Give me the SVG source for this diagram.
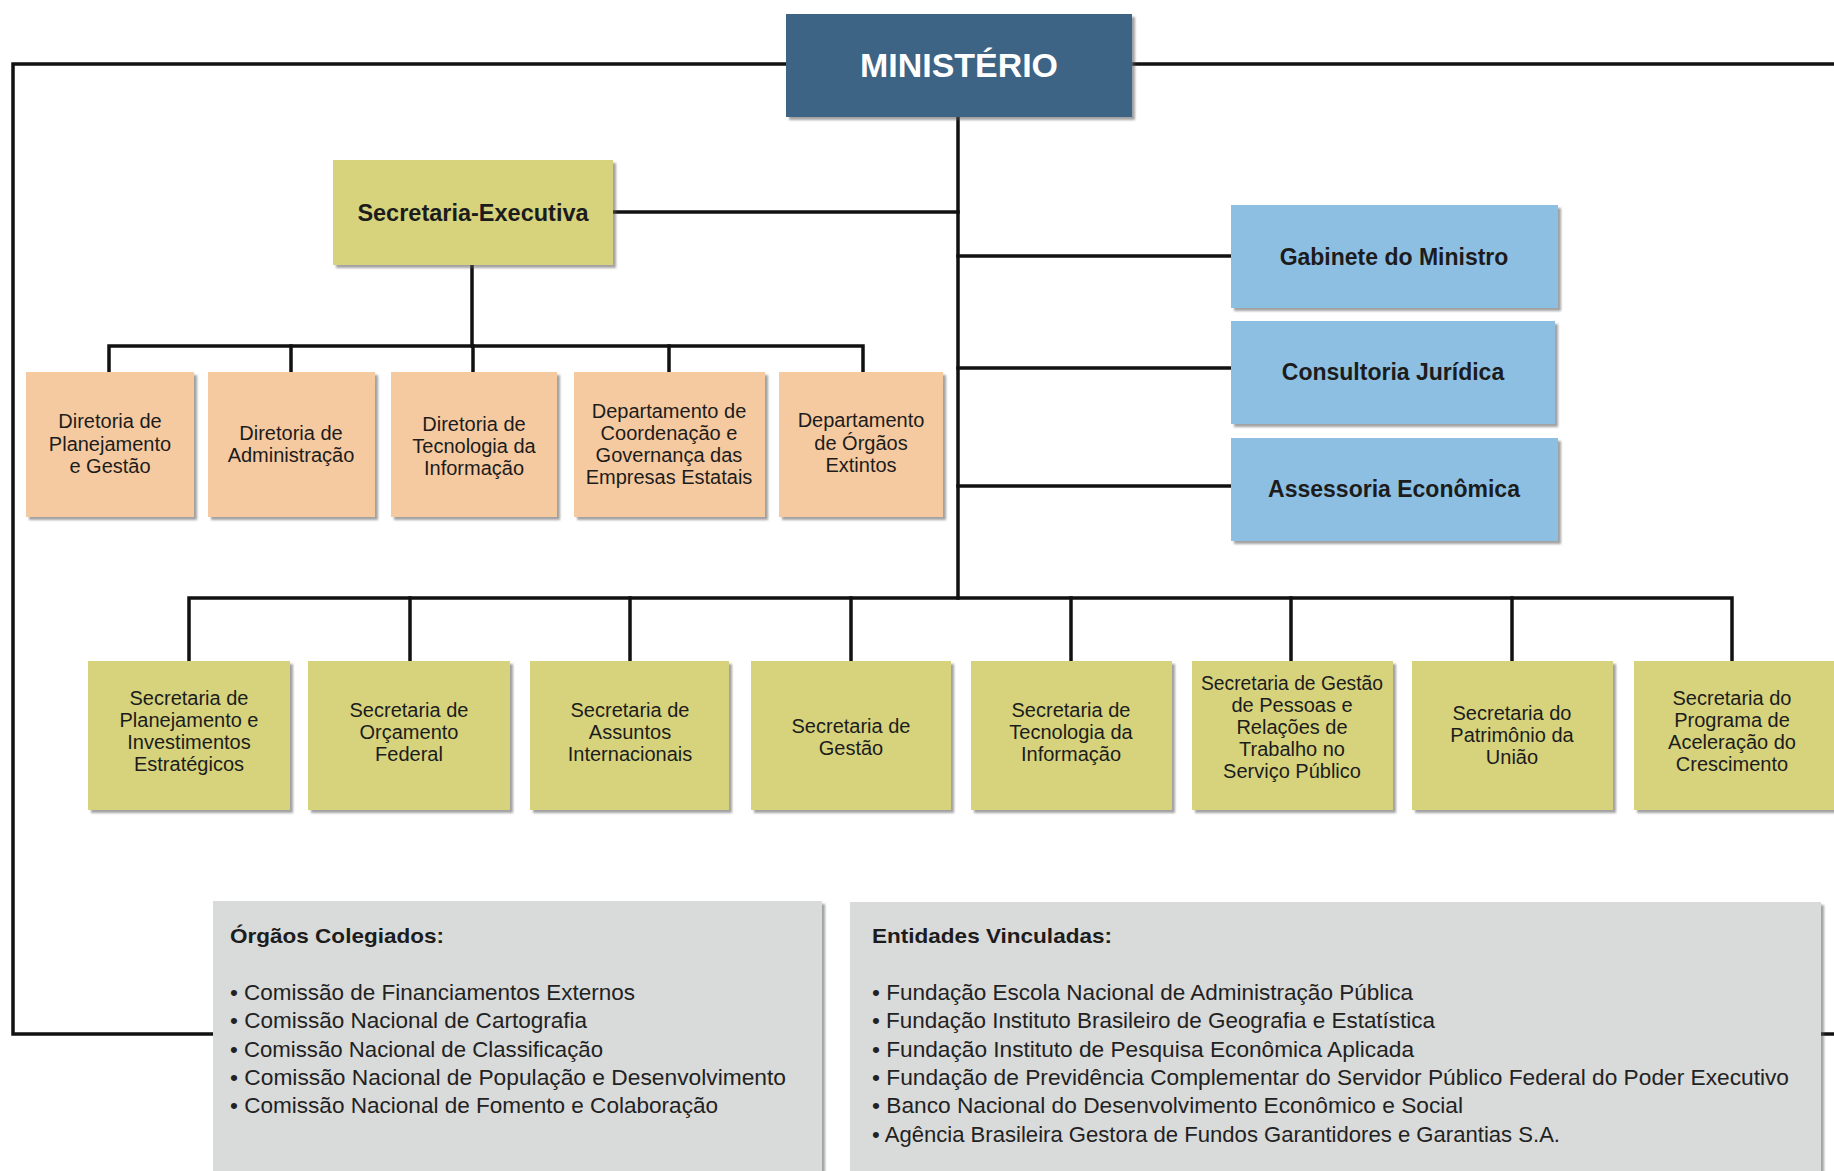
<svg xmlns="http://www.w3.org/2000/svg" width="1834" height="1171" viewBox="0 0 1834 1171">
<style>
  text { font-family: "Liberation Sans", Arial, sans-serif; fill: #1c1c1c; }
  .c { text-anchor: middle; }
  .reg { font-size: 20px; }
  .bold { font-weight: bold; }
  .min { fill: #3e6385; }
  .yel { fill: #d6d37b; }
  .org { fill: #f6caa0; }
  .blu { fill: #8cbfe2; }
  .gry { fill: #d9dada; }
  .box { filter: url(#sh); }
  .ln { fill: none; stroke: #111; stroke-width: 3.5; stroke-linejoin: miter; stroke-linecap: square; }
  .it { font-size: 22px; fill: #222; }
</style>
<defs>
  <filter id="sh" x="-5%" y="-5%" width="112%" height="115%">
    <feDropShadow dx="3" dy="3" stdDeviation="1.2" flood-color="#555" flood-opacity="0.55"/>
  </filter>
</defs>
<rect width="1834" height="1171" fill="#ffffff"/>

<g id="connectors">
  <polyline class="ln" points="786,64 13,64 13,1034 213,1034"/>
  <line class="ln" x1="1134" y1="64" x2="1836" y2="64"/>
  <line class="ln" x1="1821" y1="1034" x2="1836" y2="1034"/>
  <line class="ln" x1="958" y1="117" x2="958" y2="598"/>
  <line class="ln" x1="613" y1="212" x2="958" y2="212"/>
  <line class="ln" x1="958" y1="256" x2="1231" y2="256"/>
  <line class="ln" x1="958" y1="368" x2="1231" y2="368"/>
  <line class="ln" x1="958" y1="486" x2="1231" y2="486"/>
  <line class="ln" x1="472" y1="265" x2="472" y2="346"/>
  <polyline class="ln" points="109,372 109,346 863,346 863,372"/>
  <line class="ln" x1="291" y1="346" x2="291" y2="372"/>
  <line class="ln" x1="473" y1="346" x2="473" y2="372"/>
  <line class="ln" x1="669" y1="346" x2="669" y2="372"/>
  <polyline class="ln" points="189,660 189,598 1732,598 1732,660"/>
  <line class="ln" x1="410" y1="598" x2="410" y2="660"/>
  <line class="ln" x1="630" y1="598" x2="630" y2="660"/>
  <line class="ln" x1="851" y1="598" x2="851" y2="660"/>
  <line class="ln" x1="1071" y1="598" x2="1071" y2="660"/>
  <line class="ln" x1="1291" y1="598" x2="1291" y2="660"/>
  <line class="ln" x1="1512" y1="598" x2="1512" y2="660"/>
</g>

<g id="ministerio">
  <rect class="min box" x="786" y="14" width="346" height="103"/>
  <text class="c bold" x="959" y="77" font-size="34" style="fill:#ffffff" textLength="198" lengthAdjust="spacingAndGlyphs">MINISTÉRIO</text>
</g>

<g id="secretaria-executiva">
  <rect class="yel box" x="333" y="160" width="280" height="105"/>
  <text class="c bold" x="473" y="221" font-size="23.5">Secretaria-Executiva</text>
</g>

<g id="gabinete">
  <rect class="blu box" x="1231" y="205" width="327" height="103"/>
  <text class="c bold" x="1394" y="265" font-size="23">Gabinete do Ministro</text>
</g>
<g id="consultoria">
  <rect class="blu box" x="1231" y="321" width="324" height="103"/>
  <text class="c bold" x="1393" y="380" font-size="23">Consultoria Jurídica</text>
</g>
<g id="assessoria">
  <rect class="blu box" x="1231" y="438" width="327" height="103"/>
  <text class="c bold" x="1394" y="497" font-size="23">Assessoria Econômica</text>
</g>

<g id="dir-planejamento">
  <rect class="org box" x="26" y="372" width="168" height="145"/>
  <text class="c reg" x="110" y="428">Diretoria de</text>
  <text class="c reg" x="110" y="451">Planejamento</text>
  <text class="c reg" x="110" y="473">e Gestão</text>
</g>
<g id="dir-administracao">
  <rect class="org box" x="208" y="372" width="167" height="145"/>
  <text class="c reg" x="291" y="440">Diretoria de</text>
  <text class="c reg" x="291" y="462">Administração</text>
</g>
<g id="dir-tecnologia">
  <rect class="org box" x="391" y="372" width="166" height="145"/>
  <text class="c reg" x="474" y="431">Diretoria de</text>
  <text class="c reg" x="474" y="453">Tecnologia da</text>
  <text class="c reg" x="474" y="475">Informação</text>
</g>
<g id="dep-coordenacao">
  <rect class="org box" x="574" y="372" width="191" height="145"/>
  <text class="c reg" x="669" y="418">Departamento de</text>
  <text class="c reg" x="669" y="440">Coordenação e</text>
  <text class="c reg" x="669" y="462">Governança das</text>
  <text class="c reg" x="669" y="484">Empresas Estatais</text>
</g>
<g id="dep-orgaos-extintos">
  <rect class="org box" x="779" y="372" width="164" height="145"/>
  <text class="c reg" x="861" y="427">Departamento</text>
  <text class="c reg" x="861" y="450">de Órgãos</text>
  <text class="c reg" x="861" y="472">Extintos</text>
</g>

<g id="sec-planejamento">
  <rect class="yel box" x="88" y="661" width="202" height="149"/>
  <text class="c reg" x="189" y="705">Secretaria de</text>
  <text class="c reg" x="189" y="727">Planejamento e</text>
  <text class="c reg" x="189" y="749">Investimentos</text>
  <text class="c reg" x="189" y="771">Estratégicos</text>
</g>
<g id="sec-orcamento">
  <rect class="yel box" x="308" y="661" width="202" height="149"/>
  <text class="c reg" x="409" y="717">Secretaria de</text>
  <text class="c reg" x="409" y="739">Orçamento</text>
  <text class="c reg" x="409" y="761">Federal</text>
</g>
<g id="sec-assuntos">
  <rect class="yel box" x="530" y="661" width="199" height="149"/>
  <text class="c reg" x="630" y="717">Secretaria de</text>
  <text class="c reg" x="630" y="739">Assuntos</text>
  <text class="c reg" x="630" y="761">Internacionais</text>
</g>
<g id="sec-gestao">
  <rect class="yel box" x="751" y="661" width="200" height="149"/>
  <text class="c reg" x="851" y="733">Secretaria de</text>
  <text class="c reg" x="851" y="755">Gestão</text>
</g>
<g id="sec-tecnologia">
  <rect class="yel box" x="971" y="661" width="201" height="149"/>
  <text class="c reg" x="1071" y="717">Secretaria de</text>
  <text class="c reg" x="1071" y="739">Tecnologia da</text>
  <text class="c reg" x="1071" y="761">Informação</text>
</g>
<g id="sec-pessoas">
  <rect class="yel box" x="1192" y="661" width="201" height="149"/>
  <text class="c reg" x="1292" y="690" textLength="182" lengthAdjust="spacingAndGlyphs">Secretaria de Gestão</text>
  <text class="c reg" x="1292" y="712">de Pessoas e</text>
  <text class="c reg" x="1292" y="734">Relações de</text>
  <text class="c reg" x="1292" y="756">Trabalho no</text>
  <text class="c reg" x="1292" y="778">Serviço Público</text>
</g>
<g id="sec-patrimonio">
  <rect class="yel box" x="1412" y="661" width="201" height="149"/>
  <text class="c reg" x="1512" y="720">Secretaria do</text>
  <text class="c reg" x="1512" y="742">Patrimônio da</text>
  <text class="c reg" x="1512" y="764">União</text>
</g>
<g id="sec-pac">
  <rect class="yel box" x="1634" y="661" width="204" height="149"/>
  <text class="c reg" x="1732" y="705">Secretaria do</text>
  <text class="c reg" x="1732" y="727">Programa de</text>
  <text class="c reg" x="1732" y="749">Aceleração do</text>
  <text class="c reg" x="1732" y="771">Crescimento</text>
</g>

<g id="orgaos-colegiados">
  <rect class="gry box" x="213" y="901" width="609" height="290"/>
  <text class="bold" x="230" y="943" font-size="21" textLength="214" lengthAdjust="spacingAndGlyphs">Órgãos Colegiados:</text>
  <text class="it" x="230" y="1000" textLength="405" lengthAdjust="spacingAndGlyphs">• Comissão de Financiamentos Externos</text>
  <text class="it" x="230" y="1028" textLength="357" lengthAdjust="spacingAndGlyphs">• Comissão Nacional de Cartografia</text>
  <text class="it" x="230" y="1057" textLength="373" lengthAdjust="spacingAndGlyphs">• Comissão Nacional de Classificação</text>
  <text class="it" x="230" y="1085" textLength="556" lengthAdjust="spacingAndGlyphs">• Comissão Nacional de População e Desenvolvimento</text>
  <text class="it" x="230" y="1113" textLength="488" lengthAdjust="spacingAndGlyphs">• Comissão Nacional de Fomento e Colaboração</text>
</g>

<g id="entidades-vinculadas">
  <rect class="gry box" x="850" y="902" width="971" height="290"/>
  <text class="bold" x="872" y="943" font-size="21" textLength="240" lengthAdjust="spacingAndGlyphs">Entidades Vinculadas:</text>
  <text class="it" x="872" y="1000" textLength="541" lengthAdjust="spacingAndGlyphs">• Fundação Escola Nacional de Administração Pública</text>
  <text class="it" x="872" y="1028" textLength="563" lengthAdjust="spacingAndGlyphs">• Fundação Instituto Brasileiro de Geografia e Estatística</text>
  <text class="it" x="872" y="1057" textLength="542" lengthAdjust="spacingAndGlyphs">• Fundação Instituto de Pesquisa Econômica Aplicada</text>
  <text class="it" x="872" y="1085" textLength="917" lengthAdjust="spacingAndGlyphs">• Fundação de Previdência Complementar do Servidor Público Federal do Poder Executivo</text>
  <text class="it" x="872" y="1113" textLength="591" lengthAdjust="spacingAndGlyphs">• Banco Nacional do Desenvolvimento Econômico e Social</text>
  <text class="it" x="872" y="1142" textLength="688" lengthAdjust="spacingAndGlyphs">• Agência Brasileira Gestora de Fundos Garantidores e Garantias S.A.</text>
</g>
</svg>
